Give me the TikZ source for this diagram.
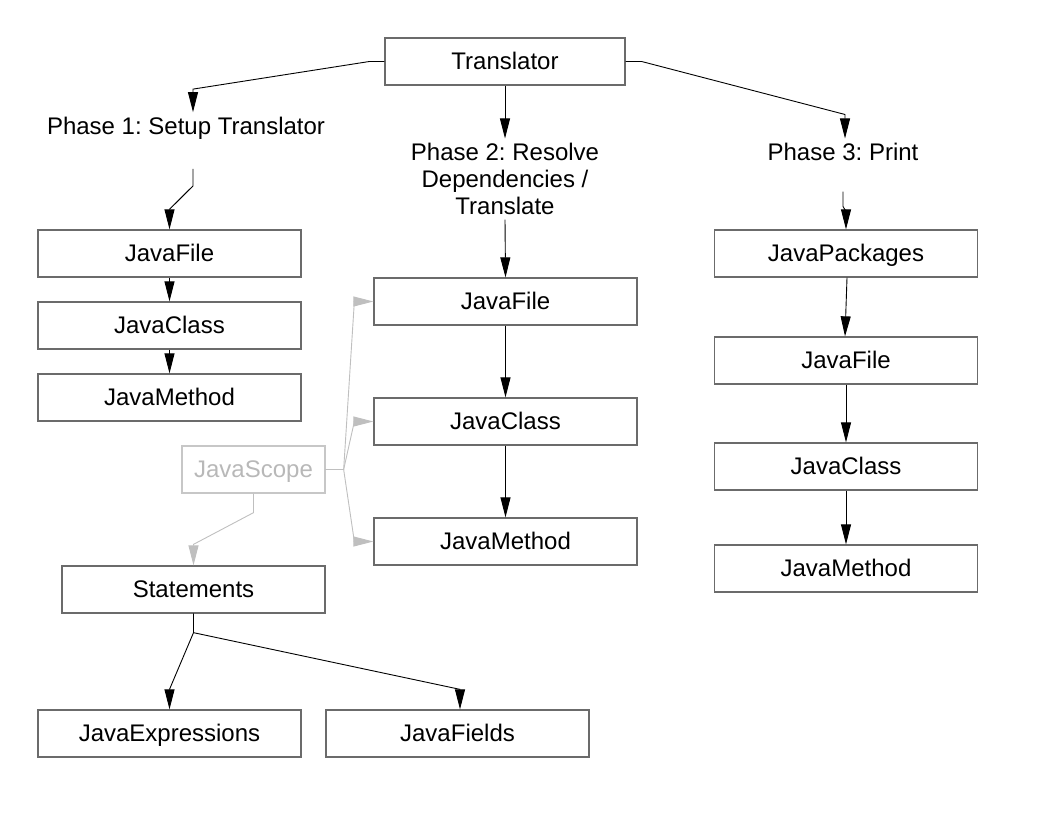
\documentclass[tikz,border=0pt]{standalone}
\usepackage{fontspec}
\setmainfont{Liberation Sans}
\usetikzlibrary{arrows.meta,calc}
\frenchspacing

\tikzset{
  box/.style={draw=black!58,line width=1.3pt,minimum width=263pt,minimum height=47pt,inner sep=0pt,text height=19pt,text depth=3pt,font=\fontsize{24}{27}\selectfont},
  ghostbox/.style={box,draw=black!22,text=black!28,minimum width=143pt},
  phase/.style={align=center,inner sep=4.5pt,font=\fontsize{24}{27}\selectfont},
  conn/.style={line width=0.9pt,-{Triangle[length=20pt,width=10pt]}},
  ghostconn/.style={conn,draw=black!25}
}

\begin{document}
\begin{tikzpicture}[x=1pt,y=-1pt]
\useasboundingbox (0,0) rectangle (1056,816);
\node[box,minimum width=240pt] (tr) at (505,61.5) {Translator};
\node[phase] (p1) at (186,128) {Phase 1: Setup Translator};
\node[phase] (p2) at (505,179) {Phase 2: Resolve\\Dependencies /\\Translate};
\node[phase] (p3) at (843,152) {Phase 3: Print};
\draw[conn] (tr.west) -- ++(-15,0) -- ($(p1.north)+(7,-23)$) -- ($(p1.north)+(7,0)$);
\draw[conn] (tr.south) -- (p2.north);
\draw[conn] (tr.east) -- ++(16,0) -- ($(p3.north)+(2,-24)$) -- ($(p3.north)+(2,0)$);
% phase 1
\node[box] (af) at (169.5,253.5) {JavaFile};
\node[box] (ac) at (169.5,325.5) {JavaClass};
\node[box] (am) at (169.5,397.5) {JavaMethod};
\draw[conn] ($(p1.south)+(7,25)$) -- ++(0,17) -- ($(af.north)+(0,-20)$) -- (af.north);
\draw[conn] (af) -- (ac);
\draw[conn] (ac) -- (am);
% phase 2
\node[box] (bf) at (505.5,301.5) {JavaFile};
\node[box] (bc) at (505.5,421.5) {JavaClass};
\node[box] (bm) at (505.5,541.5) {JavaMethod};
\draw[conn] (p2.south) -- (bf.north);
\draw[conn] (bf) -- (bc);
\draw[conn] (bc) -- (bm);
% phase 3
\node[box] (cp) at (846,253.5) {JavaPackages};
\node[box] (cf) at (846,360.5) {JavaFile};
\node[box] (cc) at (846,466.5) {JavaClass};
\node[box] (cm) at (846,568.5) {JavaMethod};
\draw[conn] ($(p3.south)+(0,26)$) -- ++(0,15) -- ($(cp.north)+(0,-18)$) -- (cp.north);
\draw[conn] ($(cp.south)+(1,0)$) -- ($(cf.north)+(-1,0)$);
\draw[conn] (cf) -- (cc);
\draw[conn] (cc) -- (cm);
% scope and statements
\node[ghostbox] (sc) at (253.5,469.5) {JavaScope};
\draw[ghostconn] (sc.east) -- ++(18,0) -- ($(bf.west)+(-19,0)$) -- (bf.west);
\draw[ghostconn] (sc.east) -- ++(18,0) -- ($(bc.west)+(-19,0)$) -- (bc.west);
\draw[ghostconn] (sc.east) -- ++(18,0) -- ($(bm.west)+(-19,0)$) -- (bm.west);
\node[box] (st) at (193.5,589.5) {Statements};
\draw[ghostconn] (sc.south) -- ++(0,19) -- ($(st.north)+(0,-21)$) -- (st.north);
\node[box] (ex) at (169.5,733.5) {JavaExpressions};
\node[box] (fd) at (457.5,733.5) {JavaFields};
\draw[conn] (st.south) -- ++(0,19) -- ($(ex.north)+(0,-20)$) -- (ex.north);
\draw[conn] (st.south) -- ++(0,19) -- ($(fd.north)+(2.5,-20)$) -- ($(fd.north)+(2.5,0)$);
\end{tikzpicture}
\end{document}
